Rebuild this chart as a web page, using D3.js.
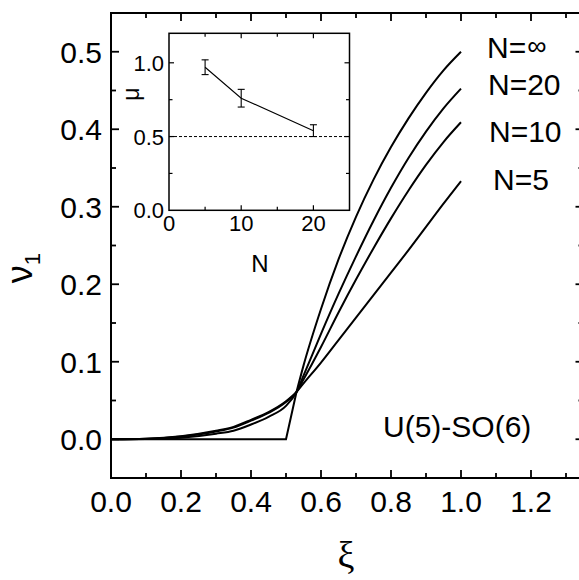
<!DOCTYPE html>
<html>
<head>
<meta charset="utf-8">
<script src="https://cdn.jsdelivr.net/npm/d3@7"></script>
<style>
  html, body { margin: 0; padding: 0; background: #fff; }
  svg { display: block; }
  text { font-family: "Liberation Sans", Arial, Helvetica, sans-serif; fill: #000; }
</style>
</head>
<body>
<svg id="chart" width="579" height="580"></svg>
<script>
// main panel data: nu_1 vs xi for several boson numbers N
const xi   = [0, 0.1, 0.2, 0.3, 0.35, 0.4, 0.45, 0.5, 0.53, 0.55, 0.6, 0.65, 0.7, 0.75, 0.8, 0.85, 0.9, 0.95, 1.0];
const nu5  = [0, 0.0008, 0.004, 0.011, 0.016, 0.025, 0.035, 0.049, 0.061, 0.072, 0.099, 0.128, 0.157, 0.186, 0.215, 0.244, 0.274, 0.304, 0.333];
const nu10 = [0, 0.0006, 0.0035, 0.010, 0.015, 0.024, 0.034, 0.048, 0.061, 0.077, 0.119, 0.1635, 0.206, 0.2465, 0.285, 0.321, 0.354, 0.3835, 0.409];
const nu20 = [0, 0.0003, 0.002, 0.0072, 0.011, 0.019, 0.029, 0.043, 0.061, 0.082, 0.136, 0.1875, 0.236, 0.282, 0.3245, 0.363, 0.397, 0.427, 0.4525];
const xiInf = [0, 0.5, 0.53, 0.55, 0.6, 0.65, 0.7, 0.75, 0.8, 0.85, 0.9, 0.95, 1.0];
const nuInf = [0, 0, 0.061, 0.095, 0.168, 0.232, 0.287, 0.335, 0.377, 0.414, 0.447, 0.476, 0.50];

const curveNames = ['N=', 'N=20', 'N=10', 'N=5'];

// inset data: exponent mu vs N
const insetN = [5, 10, 20];
const mu     = [0.97, 0.76, 0.54];
const muErr  = [0.05, 0.06, 0.04];

const xTicks = [0.0, 0.2, 0.4, 0.6, 0.8, 1.0, 1.2];
const yTicks = [0.0, 0.1, 0.2, 0.3, 0.4, 0.5];

const svg = d3.select('#chart');

const x = d3.scaleLinear().domain([0, 1.35]).range([111, 583.5]);
const y = d3.scaleLinear().domain([-0.05, 0.55]).range([478, 13]);

// frame
const frame = svg.append('g').attr('fill', 'none').attr('stroke', '#000').attr('stroke-width', 2);
frame.append('rect')
    .attr('x', x(0)).attr('y', y(0.55))
    .attr('width', x(1.35) - x(0)).attr('height', y(-0.05) - y(0.55));

// ticks on all four sides, pointing inward
const xMinor = d3.range(1, 14).map(i => i / 10);
const yMinor = d3.range(-1, 11).map(i => i / 20);

function isMajor(v, step) {
    return Math.abs(v / step - Math.round(v / step)) < 1e-6;
}

const tickG = svg.append('g').attr('stroke', '#000').attr('stroke-width', 1.8);
xMinor.forEach(v => {
    const len = isMajor(v, 0.2) ? 8 : 5;
    tickG.append('line').attr('x1', x(v)).attr('x2', x(v)).attr('y1', y(-0.05)).attr('y2', y(-0.05) - len);
    tickG.append('line').attr('x1', x(v)).attr('x2', x(v)).attr('y1', y(0.55)).attr('y2', y(0.55) + len);
});
yMinor.forEach(v => {
    const len = isMajor(v, 0.1) ? 8 : 5;
    tickG.append('line').attr('x1', x(0)).attr('x2', x(0) + len).attr('y1', y(v)).attr('y2', y(v));
    tickG.append('line').attr('x1', x(1.35)).attr('x2', x(1.35) - len).attr('y1', y(v)).attr('y2', y(v));
});

// tick labels
svg.append('g').selectAll('text')
    .data(xTicks)
    .enter().append('text')
    .attr('x', d => x(d))
    .attr('y', 512)
    .attr('text-anchor', 'middle')
    .attr('font-size', 30)
    .text(d => d.toFixed(1));

svg.append('g').selectAll('text')
    .data(yTicks)
    .enter().append('text')
    .attr('x', 102)
    .attr('y', d => y(d) + 11)
    .attr('text-anchor', 'end')
    .attr('font-size', 30)
    .text(d => d.toFixed(1));

// axis titles
svg.append('text')
    .attr('x', 346)
    .attr('y', 568)
    .attr('text-anchor', 'middle')
    .attr('font-size', 38)
    .style('font-family', '"Liberation Serif", "DejaVu Serif", serif')
    .text('ξ');

const yTitle = svg.append('text')
    .attr('transform', 'translate(32,268) rotate(-90)')
    .attr('text-anchor', 'middle')
    .attr('font-size', 36);
yTitle.append('tspan').text('ν');
yTitle.append('tspan').attr('font-size', 22).attr('dy', 8).text('1');

// curves
const line = d3.line()
    .x((d, i) => x(xi[i]))
    .y(d => y(d))
    .curve(d3.curveMonotoneX);

const curves = svg.append('g').attr('fill', 'none').attr('stroke', '#000').attr('stroke-width', 2);
[nu5, nu10, nu20].forEach(series => {
    curves.append('path').attr('d', line(series));
});

const infPts = xiInf.map((v, i) => [v, nuInf[i]]);
const lineInfLin = d3.line().x(d => x(d[0])).y(d => y(d[1]));
const lineInfSmooth = d3.line().x(d => x(d[0])).y(d => y(d[1])).curve(d3.curveMonotoneX);
curves.append('path').attr('d', lineInfLin(infPts.slice(0, 3)));
curves.append('path').attr('d', lineInfSmooth(infPts.slice(2)));

// curve labels
const labelPos = [[487, 58], [488, 95], [489, 142], [493, 190]];
const labels = svg.append('g').selectAll('text')
    .data(curveNames)
    .enter().append('text')
    .attr('x', (d, i) => labelPos[i][0])
    .attr('y', (d, i) => labelPos[i][1])
    .attr('font-size', 30)
    .text(d => d);
// the infinity sign is set a little smaller and higher
labels.filter((d, i) => i === 0)
    .append('tspan').attr('font-size', 27).attr('dy', -3).attr('dx', 1).text('∞');

svg.append('text')
    .attr('x', 383)
    .attr('y', 437)
    .attr('font-size', 30)
    .text('U(5)-SO(6)');

// ---- inset ----
const ix = d3.scaleLinear().domain([0, 25]).range([169, 349.5]);
const iy = d3.scaleLinear().domain([0, 1.2]).range([210.3, 33.3]);

const inset = svg.append('g');
inset.append('rect')
    .attr('x', ix(0)).attr('y', iy(1.2))
    .attr('width', ix(25) - ix(0)).attr('height', iy(0) - iy(1.2))
    .attr('fill', '#fff').attr('stroke', '#000').attr('stroke-width', 1.5);

const itick = inset.append('g').attr('stroke', '#000').attr('stroke-width', 1.2);
[5, 10, 15, 20].forEach(v => {
    const len = v % 10 === 0 ? 5 : 3.5;
    itick.append('line').attr('x1', ix(v)).attr('x2', ix(v)).attr('y1', iy(0)).attr('y2', iy(0) - len);
    itick.append('line').attr('x1', ix(v)).attr('x2', ix(v)).attr('y1', iy(1.2)).attr('y2', iy(1.2) + len);
});
[0.25, 0.5, 0.75, 1.0].forEach(v => {
    const len = isMajor(v, 0.5) ? 5 : 3.5;
    itick.append('line').attr('x1', ix(0)).attr('x2', ix(0) + len).attr('y1', iy(v)).attr('y2', iy(v));
    itick.append('line').attr('x1', ix(25)).attr('x2', ix(25) - len).attr('y1', iy(v)).attr('y2', iy(v));
});

inset.append('line')
    .attr('x1', ix(0)).attr('x2', ix(25))
    .attr('y1', iy(0.5)).attr('y2', iy(0.5))
    .attr('stroke', '#000').attr('stroke-width', 1)
    .attr('stroke-dasharray', '3,2');

inset.append('path')
    .attr('d', d3.line().x((d, i) => ix(insetN[i])).y(d => iy(d))(mu))
    .attr('fill', 'none').attr('stroke', '#000').attr('stroke-width', 1.1);

const eb = inset.append('g').attr('stroke', '#000').attr('stroke-width', 1.1);
insetN.forEach((n, i) => {
    const lo = iy(mu[i] - muErr[i]), hi = iy(mu[i] + muErr[i]);
    eb.append('line').attr('x1', ix(n)).attr('x2', ix(n)).attr('y1', lo).attr('y2', hi);
    eb.append('line').attr('x1', ix(n) - 3.5).attr('x2', ix(n) + 3.5).attr('y1', lo).attr('y2', lo);
    eb.append('line').attr('x1', ix(n) - 3.5).attr('x2', ix(n) + 3.5).attr('y1', hi).attr('y2', hi);
});

inset.append('g').selectAll('text')
    .data([0, 10, 20])
    .enter().append('text')
    .attr('x', d => ix(d))
    .attr('y', 231)
    .attr('text-anchor', 'middle')
    .attr('font-size', 22)
    .text(d => d);

inset.append('g').selectAll('text')
    .data([0.0, 0.5, 1.0])
    .enter().append('text')
    .attr('x', 164)
    .attr('y', d => iy(d) + 8)
    .attr('text-anchor', 'end')
    .attr('font-size', 22)
    .text(d => d.toFixed(1));

inset.append('text')
    .attr('x', 260)
    .attr('y', 272)
    .attr('text-anchor', 'middle')
    .attr('font-size', 24)
    .text('N');

inset.append('text')
    .attr('transform', 'translate(139,94) rotate(-90)')
    .attr('text-anchor', 'middle')
    .attr('font-size', 23)
    .text('μ');
</script>
</body>
</html>
